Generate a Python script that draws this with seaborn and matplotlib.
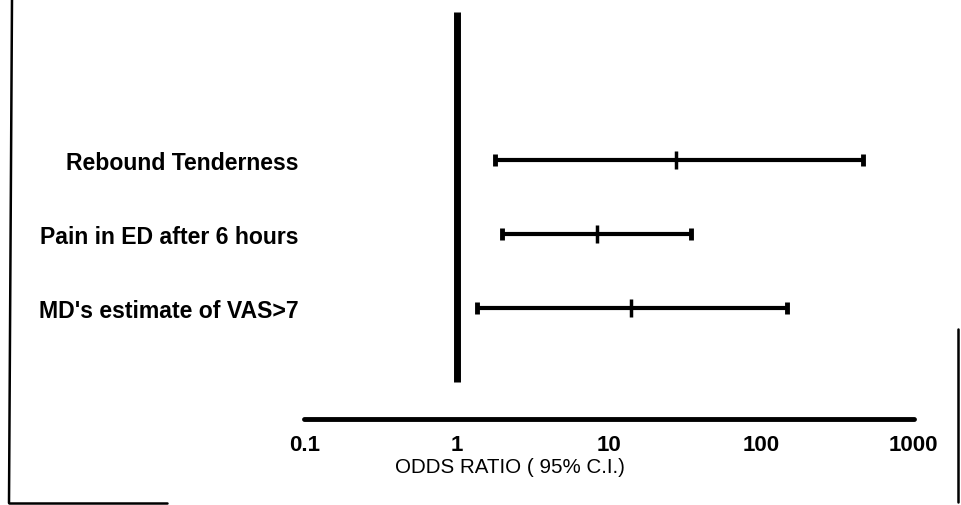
import matplotlib
matplotlib.use("Agg")
import matplotlib.pyplot as plt
from matplotlib.lines import Line2D
import seaborn as sns
import pandas as pd

# ---- data ----
categories = ["Rebound Tenderness", "Pain in ED after 6 hours", "MD's estimate of VAS>7"]
odds_ratio = [27.6, 8.3, 14.0]
ci_low = [1.79, 1.98, 1.36]
ci_high = [466.0, 34.4, 148.0]
x_ticks = [0.1, 1, 10, 100, 1000]
x_tick_labels = ["0.1", "1", "10", "100", "1000"]
x_label = "ODDS RATIO ( 95% C.I.)"

sns.set_theme(style="white")
plt.rcParams["font.family"] = ["Liberation Sans", "DejaVu Sans"]

W, H = 961, 506
fig = plt.figure(figsize=(W / 100, H / 100), dpi=100)
fig.patch.set_facecolor("white")

ax_left, ax_right = 304.3 / W, 913.5 / W
ax_top, ax_bottom = 1 - 13 / H, 1 - 420 / H
ax = fig.add_axes([ax_left, ax_bottom, ax_right - ax_left, ax_top - ax_bottom])
ax.set_facecolor("white")

df = pd.DataFrame({"cat": categories, "pos": list(range(len(categories))),
                   "or": odds_ratio, "lo": ci_low, "hi": ci_high})

# reference line at OR = 1
ax.vlines(1, -2, 3, color="black", lw=5, capstyle="butt", zorder=3)

# confidence intervals
ax.errorbar(df["or"], df["pos"],
            xerr=[df["or"] - df["lo"], df["hi"] - df["or"]],
            fmt="none", ecolor="black", elinewidth=3, capsize=4, capthick=3.5, zorder=2)

# point estimates
sns.scatterplot(data=df, x="or", y="pos", marker="|", s=170, linewidth=2.5,
                color="black", ax=ax, zorder=4, legend=False)

ax.set_xscale("log")
ax.set_xlim(0.1, 1000)
ax.set_ylim(3.5, -2)
ax.set_xticks(x_ticks)
ax.set_xticklabels(x_tick_labels)
ax.minorticks_off()
ax.set_yticks(df["pos"])
ax.set_yticklabels(categories)

for lab in ax.get_xticklabels():
    lab.set_fontsize(16)
    lab.set_fontweight("bold")
for lab in ax.get_yticklabels():
    lab.set_fontsize(16.6)
    lab.set_fontweight("bold")
ax.tick_params(axis="x", length=0, pad=11, colors="black")
ax.tick_params(axis="y", length=0, pad=4, colors="black")

for s in ["top", "right", "left"]:
    ax.spines[s].set_visible(False)
ax.spines["bottom"].set_color("black")
ax.spines["bottom"].set_linewidth(3.5)
ax.spines["bottom"].set_capstyle("round")

ax.set_xlabel(x_label, fontsize=14.8, color="black")
ax.set_ylabel("")
ax.xaxis.set_label_coords((510 - 304.3) / 609.2, (420 - 458) / 407)

# scanned figure frame remnants
def px_line(x0, y0, x1, y1, lw=1.8):
    fig.add_artist(Line2D([x0 / W, x1 / W], [1 - y0 / H, 1 - y1 / H],
                          transform=fig.transFigure, color="black", lw=lw))

px_line(12, 0, 9, 504)
px_line(9, 504, 167, 504)
px_line(958, 330, 958, 503)

fig.savefig("out.png", dpi=100, facecolor="white")
